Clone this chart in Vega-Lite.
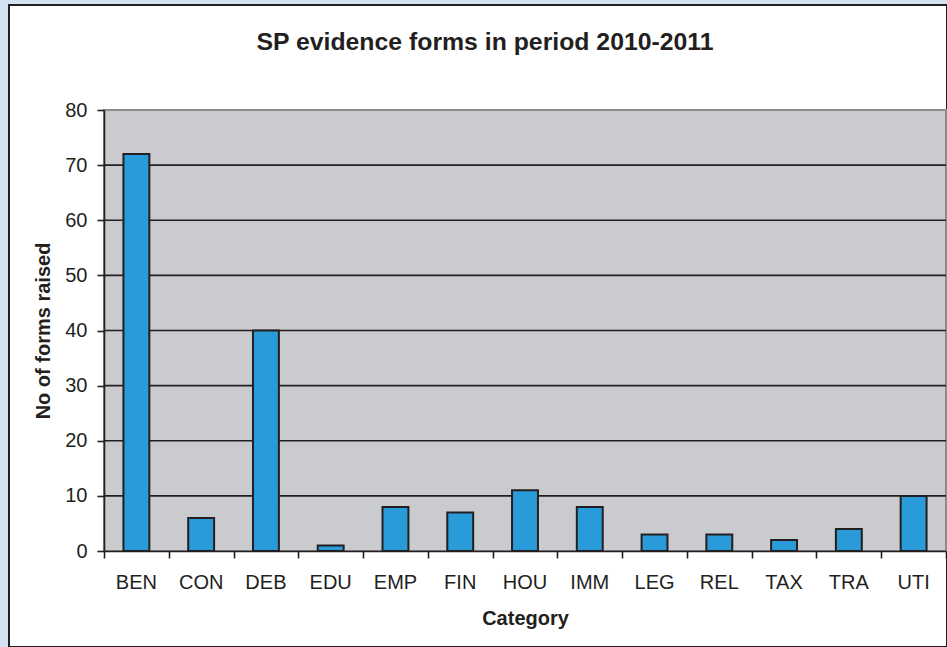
{
  "$schema": "https://vega.github.io/schema/vega-lite/v6.json",
  "autosize": "none",
  "padding": {"left": 9, "top": 5, "right": 0, "bottom": 0},
  "width": 938,
  "height": 642,
  "background": "#d4e1f0",
  "config": {
    "view": {"fill": "white", "stroke": "#231f20", "strokeWidth": 2},
    "font": "Liberation Sans"
  },
  "title": {
    "text": "SP evidence forms in period 2010-2011",
    "font": "Liberation Sans",
    "fontSize": 24.8,
    "fontWeight": "bold",
    "color": "#231f20",
    "anchor": "middle",
    "frame": "group",
    "offset": -50,
    "dx": 7
  },
  "datasets": {
    "forms": [
      {"category": "BEN", "count": 72},
      {"category": "CON", "count": 6},
      {"category": "DEB", "count": 40},
      {"category": "EDU", "count": 1},
      {"category": "EMP", "count": 8},
      {"category": "FIN", "count": 7},
      {"category": "HOU", "count": 11},
      {"category": "IMM", "count": 8},
      {"category": "LEG", "count": 3},
      {"category": "REL", "count": 3},
      {"category": "TAX", "count": 2},
      {"category": "TRA", "count": 4},
      {"category": "UTI", "count": 10}
    ],
    "grid": [
      {"v": 10}, {"v": 20}, {"v": 30}, {"v": 40}, {"v": 50}, {"v": 60}, {"v": 70}
    ]
  },
  "layer": [
    {
      "data": {"values": [{}]},
      "mark": {"type": "rect", "fill": "#cacbcf", "stroke": "#8c8c8c", "strokeWidth": 2},
      "encoding": {
        "x": {"datum": 0, "type": "quantitative", "scale": {"domain": [0, 13], "range": [95, 937]},
          "axis": {"orient": "bottom", "offset": -96, "zindex": 1, "values": [0, 1, 2, 3, 4, 5, 6, 7, 8, 9, 10, 11, 12, 13], "labels": false, "domain": false, "title": null, "grid": false, "tickSize": 7, "tickWidth": 1.6, "tickColor": "#231f20"}},
        "x2": {"datum": 13},
        "y": {"datum": 0, "type": "quantitative", "scale": {"domain": [0, 80], "range": [546, 105]}, "axis": null},
        "y2": {"datum": 80}
      }
    },
    {
      "data": {"name": "grid"},
      "mark": {"type": "rule", "color": "#231f20", "strokeWidth": 1.6},
      "encoding": {
        "x": {"datum": 0, "type": "quantitative", "scale": {"domain": [0, 13], "range": [95, 937]}, "axis": null},
        "x2": {"datum": 13},
        "y": {"field": "v", "type": "quantitative", "scale": {"domain": [0, 80], "range": [546, 105]}, "axis": null}
      }
    },
    {
      "data": {"name": "forms"},
      "mark": {"type": "bar", "fill": "#289bd8", "stroke": "#231f20", "strokeWidth": 2},
      "encoding": {
        "x": {
          "field": "category",
          "type": "nominal",
          "sort": null,
          "scale": {"range": [95, 937], "paddingInner": 0.6, "paddingOuter": 0.3},
          "axis": {
            "orient": "bottom",
            "offset": -96,
            "zindex": 1,
            "title": "Category",
            "titleFont": "Liberation Sans",
            "titleFontSize": 20,
            "titleFontWeight": "bold",
            "titleColor": "#231f20",
            "titlePadding": 16,
            "labelFont": "Liberation Sans",
            "labelFontSize": 20,
            "labelColor": "#231f20",
            "labelPadding": 21,
            "labelAngle": 0,
            "ticks": false,
            "domainColor": "#231f20",
            "domainWidth": 1.6,
            "grid": false
          }
        },
        "y": {
          "field": "count",
          "type": "quantitative",
          "scale": {"domain": [0, 80], "range": [546, 105]},
          "axis": {
            "orient": "left",
            "offset": -95,
            "zindex": 1,
            "values": [0, 10, 20, 30, 40, 50, 60, 70, 80],
            "title": "No of forms raised",
            "titleFont": "Liberation Sans",
            "titleFontSize": 20,
            "titleFontWeight": "bold",
            "titleColor": "#231f20",
            "titlePadding": 11,
            "labelFont": "Liberation Sans",
            "labelFontSize": 20,
            "labelColor": "#231f20",
            "labelPadding": 10,
            "labelOverlap": false,
            "tickSize": 7,
            "tickWidth": 1.6,
            "tickColor": "#231f20",
            "domainColor": "#231f20",
            "domainWidth": 1.6,
            "grid": false
          }
        }
      }
    }
  ],
  "resolve": {"scale": {"x": "independent", "y": "independent"}, "axis": {"x": "independent", "y": "independent"}}
}
